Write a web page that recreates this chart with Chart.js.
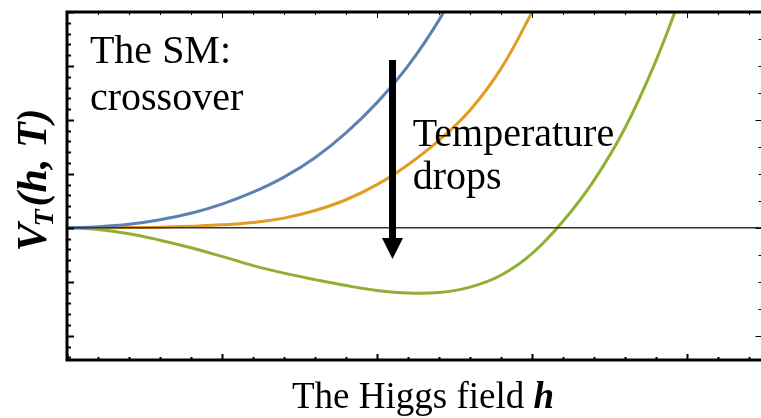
<!DOCTYPE html>
<html>
<head>
<meta charset="utf-8">
<script src="https://cdn.jsdelivr.net/npm/chart.js@4.4.1/dist/chart.umd.min.js"></script>
<style>
  html, body { margin: 0; padding: 0; background: #fff; overflow: hidden; }
  canvas { display: block; }
</style>
</head>
<body>
<canvas id="potential" width="770" height="418"></canvas>
<script>
// field values h and potential V_T(h) for three temperatures
const hHigh = [0, 0.2, 0.4, 0.6, 0.8, 1.0, 1.2, 1.4, 1.6, 1.8, 2.0, 2.2, 2.4, 2.5];
const vHigh = [0, 0.02, 0.065, 0.15, 0.27, 0.44, 0.66, 0.94, 1.30, 1.76, 2.32, 3.00, 3.85, 4.4];

const hMid = [0, 0.2, 0.4, 0.6, 0.8, 1.0, 1.2, 1.4, 1.6, 1.8, 2.0, 2.2, 2.4, 2.6, 2.8, 3.0, 3.1];
const vMid = [0, 0.001, 0.004, 0.012, 0.03, 0.055, 0.10, 0.18, 0.32, 0.52, 0.80, 1.17, 1.62, 2.18, 2.95, 4.0, 4.6];

const hLow = [0, 0.2, 0.4, 0.6, 0.8, 1.0, 1.2, 1.4, 1.6, 1.8, 2.0, 2.2, 2.4, 2.6, 2.8, 3.0, 3.2, 3.4, 3.6, 3.8, 4.0];
const vLow = [0, -0.03, -0.11, -0.23, -0.37, -0.53, -0.70, -0.84, -0.96, -1.07, -1.16, -1.21, -1.20, -1.10, -0.88, -0.48, 0.12, 0.88, 1.85, 3.10, 4.6];

const hRange = [0, 4.5];
const vRange = [-2.45, 4];

const toPoints = (xs, ys) => xs.map((x, i) => ({ x: x, y: ys[i] }));

const serif = '"Liberation Serif", "DejaVu Serif", serif';

// frame, inward ticks, arrow and all the text
const decorations = {
  id: 'decorations',
  afterDatasetsDraw(chart) {
    const { ctx, chartArea: a, scales: { x, y } } = chart;
    ctx.save();
    ctx.strokeStyle = '#000';
    ctx.lineCap = 'butt';

    // left / bottom ticks (thick), top / right ticks (thin)
    ctx.lineWidth = 2;
    for (let i = -12; i <= 20; i++) {
      const py = Math.round(y.getPixelForValue(i / 5)) + 0.5;
      if (py < a.top || py > a.bottom) continue;
      const len = i % 5 === 0 ? 7 : 4;
      ctx.beginPath();
      ctx.moveTo(a.left, py);
      ctx.lineTo(a.left + len, py);
      ctx.stroke();
    }
    for (let i = 0; i <= 22; i++) {
      const px = Math.round(x.getPixelForValue(i / 5)) + 0.5;
      const major = i % 5 === 0;
      ctx.lineWidth = 2;
      ctx.beginPath();
      ctx.moveTo(px, a.bottom);
      ctx.lineTo(px, a.bottom - (major ? 6 : 3));
      ctx.stroke();
      ctx.lineWidth = 1;
      ctx.beginPath();
      ctx.moveTo(px, a.top);
      ctx.lineTo(px, a.top + (major ? 6 : 3));
      ctx.stroke();
    }
    ctx.lineWidth = 1;
    for (let i = -4; i <= 8; i++) {
      const py = Math.round(y.getPixelForValue(i / 2)) + 0.5;
      const len = i % 4 === 0 ? 9 : 6;
      ctx.beginPath();
      ctx.moveTo(a.right, py);
      ctx.lineTo(a.right - len, py);
      ctx.stroke();
    }

    // frame
    ctx.lineWidth = 3;
    ctx.beginPath();
    ctx.moveTo(a.right + 2, a.top);
    ctx.lineTo(a.left, a.top);
    ctx.lineTo(a.left, a.bottom);
    ctx.lineTo(a.right + 2, a.bottom);
    ctx.stroke();

    // "temperature drops" arrow
    const ax = x.getPixelForValue(2.1);
    const aTop = y.getPixelForValue(3.11);
    const aNeck = y.getPixelForValue(-0.19);
    const aTip = y.getPixelForValue(-0.58);
    ctx.fillStyle = '#000';
    ctx.fillRect(ax - 3.5, aTop, 7, aNeck - aTop + 1);
    ctx.beginPath();
    ctx.moveTo(ax - 10.5, aNeck);
    ctx.lineTo(ax + 10.5, aNeck);
    ctx.lineTo(ax, aTip);
    ctx.closePath();
    ctx.fill();

    // labels inside the plot
    ctx.font = '40px ' + serif;
    ctx.textAlign = 'left';
    ctx.textBaseline = 'alphabetic';
    ctx.fillText('The SM:', x.getPixelForValue(0.148), y.getPixelForValue(3.06));
    ctx.fillText('crossover', x.getPixelForValue(0.148), y.getPixelForValue(2.18));
    ctx.fillText('Temperature', x.getPixelForValue(2.23), y.getPixelForValue(1.52));
    ctx.fillText('drops', x.getPixelForValue(2.23), y.getPixelForValue(0.72));
    ctx.restore();
  },
  afterDraw(chart) {
    const { ctx } = chart;
    ctx.save();
    ctx.fillStyle = '#000';
    ctx.textBaseline = 'alphabetic';

    // x axis title: "The Higgs field h"
    const plain = '37px ' + serif;
    const bold = 'italic bold 37px ' + serif;
    ctx.font = plain;
    const w1 = ctx.measureText('The Higgs field ').width;
    ctx.font = bold;
    const w2 = ctx.measureText('h').width;
    const tx = 423 - (w1 + w2) / 2;
    ctx.font = plain;
    ctx.fillText('The Higgs field ', tx, 408);
    ctx.font = bold;
    ctx.fillText('h', tx + w1, 408);

    // y axis title: V_T(h, T), rotated
    ctx.translate(46, 180);
    ctx.rotate(-Math.PI / 2);
    const big = 'italic bold 42px ' + serif;
    const sub = 'italic bold 28px ' + serif;
    ctx.font = big;
    const wV = ctx.measureText('V').width;
    const wRest = ctx.measureText('(h, T)').width;
    ctx.font = sub;
    const wT = ctx.measureText('T').width;
    let px = -(wV + wT + wRest) / 2;
    ctx.font = big;
    ctx.fillText('V', px, 0);
    px += wV - 3;
    ctx.font = sub;
    ctx.fillText('T', px, 7);
    px += wT + 3;
    ctx.font = big;
    ctx.fillText('(h, T)', px, 0);
    ctx.restore();
  }
};

const curve = (xs, ys, color) => ({
  data: toPoints(xs, ys),
  borderColor: color,
  borderWidth: 3,
  pointRadius: 0,
  tension: 0.4
});

new Chart(document.getElementById('potential'), {
  type: 'line',
  data: {
    datasets: [
      {
        data: toPoints(hRange, [0, 0]),
        borderColor: '#333',
        borderWidth: 1.5,
        pointRadius: 0,
        tension: 0
      },
      curve(hHigh, vHigh, '#5e81b5'),
      curve(hMid, vMid, '#e19c24'),
      curve(hLow, vLow, '#8fb032')
    ]
  },
  options: {
    responsive: false,
    animation: false,
    layout: {
      padding: { left: 67, top: 12, right: 5.5, bottom: 58 }
    },
    scales: {
      x: { type: 'linear', min: hRange[0], max: hRange[1], display: false },
      y: { min: vRange[0], max: vRange[1], display: false }
    },
    plugins: {
      legend: { display: false },
      tooltip: { enabled: false }
    }
  },
  plugins: [decorations]
});
</script>
</body>
</html>
